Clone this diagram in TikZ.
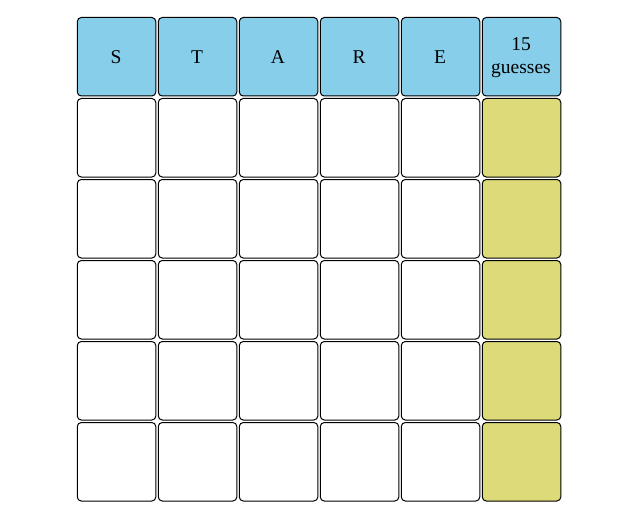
\documentclass[tikz,border=0pt]{standalone}
\usepackage{fontspec}
\setmainfont{Liberation Serif}
\definecolor{hdr}{RGB}{135,206,235}
\definecolor{cnt}{RGB}{221,218,122}
\begin{document}
\begin{tikzpicture}[x=1pt,y=-1pt,
  cell/.style={draw=black,line width=1pt,rounded corners=4pt,minimum width=78.5pt,minimum height=78.5pt,inner sep=0pt,anchor=north west},
  head/.style={cell,fill=hdr},
  tally/.style={cell,fill=cnt},
  blank/.style={cell,fill=white},
  txt/.style={inner sep=0pt,anchor=base,font=\fontsize{19.5}{22}\selectfont}]
\useasboundingbox (0,0) rectangle (637,516);
\foreach \i/\t in {0/S,1/T,2/A,3/R,4/E}{
  \node[head] (h\i) at ({76.8+81*\i},17) {};
  \node[txt] (t\i) at ({116+81*\i},63.3) {\t};
}
\node[head] (h5) at ({76.8+81*5},17) {};
\node[txt] (n15) at ({116+81*5},50.8) {15};
\node[txt] (ng) at ({116+81*5},73.3) {guesses};
\foreach \r in {1,...,5}{
  \foreach \i in {0,...,4}{
    \node[blank] (c\r\i) at ({76.8+81*\i},{17+81*\r}) {};
  }
  \node[tally] (g\r) at ({76.8+81*5},{17+81*\r}) {};
}
\end{tikzpicture}
\end{document}
